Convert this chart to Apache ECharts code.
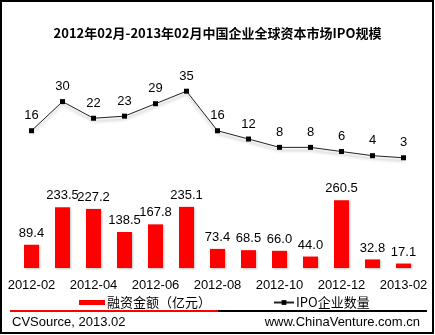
<!DOCTYPE html>
<html><head><meta charset="utf-8">
<script src="https://cdn.jsdelivr.net/npm/echarts@6/dist/echarts.min.js"></script>
<style>html,body{margin:0;padding:0;background:#fff}#c{width:435px;height:335px}</style>
</head><body><div id="c"></div>
<script>
var categories = ['2012-02','2012-03','2012-04','2012-05','2012-06','2012-07','2012-08','2012-09','2012-10','2012-11','2012-12','2013-01','2013-02'];
var amounts = [89.4, 233.5, 227.2, 138.5, 167.8, 235.1, 73.4, 68.5, 66.0, 44.0, 260.5, 32.8, 17.1];
var ipoCounts = [16, 30, 22, 23, 29, 35, 16, 12, 8, 8, 6, 4, 3];
var barName = '融资金额（亿元）';
var lineName = 'IPO企业数量';
var titleText = '2012年02月-2013年02月中国企业全球资本市场IPO规模';
var sourceText = 'CVSource, 2013.02';
var siteText = 'www.ChinaVenture.com.cn';

var latin = '"Liberation Sans", Arial, "Noto Sans CJK SC", sans-serif';
var chart = echarts.init(document.getElementById('c'));
chart.setOption({
  animation: false,
  backgroundColor: '#fff',
  title: {
    text: titleText, left: 'center', top: 22,
    textStyle: {fontSize: 13, fontWeight: 'bold', color: '#000', fontFamily: '"Noto Sans CJK SC", sans-serif'}
  },
  legend: [{
    data: [barName], left: 74, top: 291, itemWidth: 26, itemHeight: 5, itemGap: 4,
    icon: 'rect',
    textStyle: {fontSize: 13, color: '#000', fontFamily: '"Noto Sans CJK SC", sans-serif', padding: [0,0,0,-3]}
  }, {
    data: [lineName], left: 268, top: 291, itemWidth: 20, itemHeight: 6, itemGap: 4,
    textStyle: {fontSize: 13, color: '#000', fontFamily: '"Noto Sans CJK SC", sans-serif', padding: [0,0,0,-3]}
  }],
  grid: {left: 16, right: 16, top: 60, bottom: 335 - 268, containLabel: false},
  xAxis: {
    type: 'category', data: categories,
    axisLine: {show: false}, axisTick: {show: false},
    axisLabel: {interval: 1, margin: 11, fontSize: 13, color: '#000', fontFamily: latin}
  },
  yAxis: [
    {type: 'value', min: 0, max: 800, show: false, splitLine: {show: false}},
    {type: 'value', min: -50, max: 50, show: false, splitLine: {show: false}}
  ],
  series: [{
    name: barName, type: 'bar', yAxisIndex: 0, data: amounts, barWidth: 15,
    itemStyle: {color: '#FF0000', shadowColor: 'rgba(0,0,0,0.25)', shadowBlur: 2, shadowOffsetX: 1, shadowOffsetY: 1},
    label: {show: true, position: 'top', distance: 5, fontSize: 13, color: '#000', fontFamily: latin,
      formatter: function(p){ return p.value.toFixed(1); }}
  }, {
    name: lineName, type: 'line', yAxisIndex: 1, data: ipoCounts,
    symbol: 'rect', symbolSize: 5,
    lineStyle: {color: '#222', width: 1, shadowColor: 'rgba(0,0,0,0.35)', shadowBlur: 3, shadowOffsetY: 3},
    itemStyle: {color: '#000'},
    label: {show: true, position: 'top', distance: 6, fontSize: 13, color: '#000', fontFamily: latin}
  }],
  graphic: [
    {type: 'rect', shape: {x: 1, y: 1, width: 432, height: 332}, style: {fill: null, stroke: '#000', lineWidth: 2}, z: 100},
    {type: 'line', shape: {x1: 10, y1: 311, x2: 218, y2: 311}, style: {stroke: '#FF0000', lineWidth: 2}},
    {type: 'line', shape: {x1: 218, y1: 311, x2: 427, y2: 311}, style: {stroke: '#000', lineWidth: 2}},
    {type: 'text', left: 12, top: 316, style: {text: sourceText, fontSize: 13, fill: '#000', fontFamily: latin}},
    {type: 'text', right: 15, top: 316, style: {text: siteText, fontSize: 13, fill: '#000', fontFamily: latin}}
  ]
});
</script></body></html>
